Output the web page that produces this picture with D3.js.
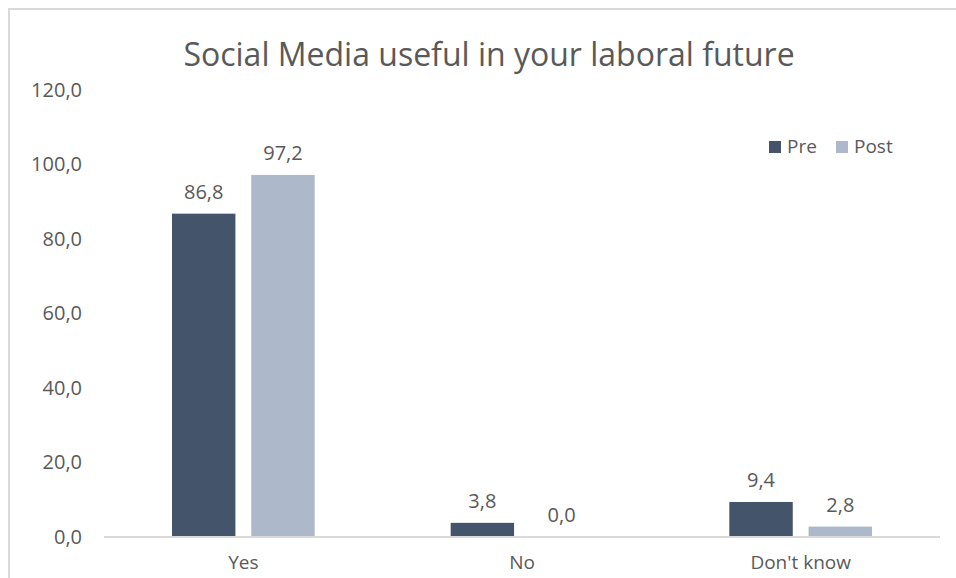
<!DOCTYPE html>
<html>
<head>
<meta charset="utf-8">
<script src="https://cdn.jsdelivr.net/npm/d3@7/dist/d3.min.js"></script>
<style>
  html, body { margin: 0; padding: 0; background: #fff; }
  svg { display: block; }
  text { font-family: "Open Sans", "Noto Sans", sans-serif; fill: #595959; }
</style>
</head>
<body>
<svg id="chart" width="956" height="578"></svg>
<script>
const categories = ["Yes", "No", "Don't know"];
const seriesNames = ["Pre", "Post"];
const preValues = [86.8, 3.8, 9.4];
const postValues = [97.2, 0.0, 2.8];
const yTicks = [0, 20, 40, 60, 80, 100, 120];
const colors = { Pre: "#44546A", Post: "#ADB9CA" };

const svg = d3.select("#chart");
const W = 956, H = 578;
const plot = { left: 104, right: 940, top: 90, bottom: 537 };

// chart frame (open on the right and bottom)
svg.append("path")
  .attr("d", `M9,${H} V9 H${W}`)
  .attr("fill", "none")
  .attr("stroke", "#d9d9d9")
  .attr("stroke-width", 2);

const fmt = v => d3.format(".1f")(v).replace(".", ",");

const x = d3.scaleBand().domain(categories).range([plot.left, plot.right]).paddingInner(0).paddingOuter(0);
const xs = d3.scaleBand().domain(seriesNames).range([68, x.bandwidth() - 68]).paddingInner(0.2);
const y = d3.scaleLinear().domain([0, 120]).range([plot.bottom, plot.top]);

// title
svg.append("text")
  .attr("x", 489).attr("y", 66)
  .attr("text-anchor", "middle")
  .style("font-size", "32px")
  .text("Social Media useful in your laboral future");

// y axis labels
const yAxis = d3.axisLeft(y).tickValues(yTicks).tickFormat(fmt).tickSize(0).tickPadding(22);
const yg = svg.append("g").attr("transform", `translate(${plot.left},0)`).call(yAxis);
yg.select(".domain").remove();
yg.selectAll("text").style("font-size", "20px").attr("fill", "#595959").style("font-family", null);

// bars
const rows = categories.map((c, i) => ({ cat: c, vals: [
  { s: "Pre", v: preValues[i] }, { s: "Post", v: postValues[i] }
]}));

const groups = svg.append("g").selectAll("g").data(rows).join("g")
  .attr("transform", d => `translate(${x(d.cat)},0)`);

groups.selectAll("rect").data(d => d.vals).join("rect")
  .attr("x", d => xs(d.s))
  .attr("width", xs.bandwidth())
  .attr("y", d => y(d.v))
  .attr("height", d => y(0) - y(d.v))
  .attr("fill", d => colors[d.s]);

groups.selectAll("text.val").data(d => d.vals).join("text")
  .attr("class", "val")
  .attr("x", d => xs(d.s) + xs.bandwidth() / 2)
  .attr("y", d => y(d.v) - 15)
  .attr("text-anchor", "middle")
  .style("font-size", "20px")
  .text(d => fmt(d.v));

// baseline
svg.append("line")
  .attr("x1", plot.left).attr("x2", plot.right)
  .attr("y1", y(0)).attr("y2", y(0))
  .attr("stroke", "#d9d9d9").attr("stroke-width", 2);

// x axis labels
const xAxis = d3.axisBottom(x).tickSize(0).tickPadding(19);
const xg = svg.append("g").attr("transform", `translate(0,${plot.bottom})`).call(xAxis);
xg.select(".domain").remove();
xg.selectAll("text").style("font-size", "19px").attr("fill", "#595959").style("font-family", null);

// legend
const legend = svg.append("g").attr("transform", "translate(769,141)");
const lx = [0, 67];
seriesNames.forEach((s, i) => {
  const g = legend.append("g").attr("transform", `translate(${lx[i]},0)`);
  g.append("rect").attr("width", 12).attr("height", 12).attr("fill", colors[s]);
  g.append("text").attr("x", 18).attr("y", 12).style("font-size", "19px").text(s);
});
</script>
</body>
</html>
